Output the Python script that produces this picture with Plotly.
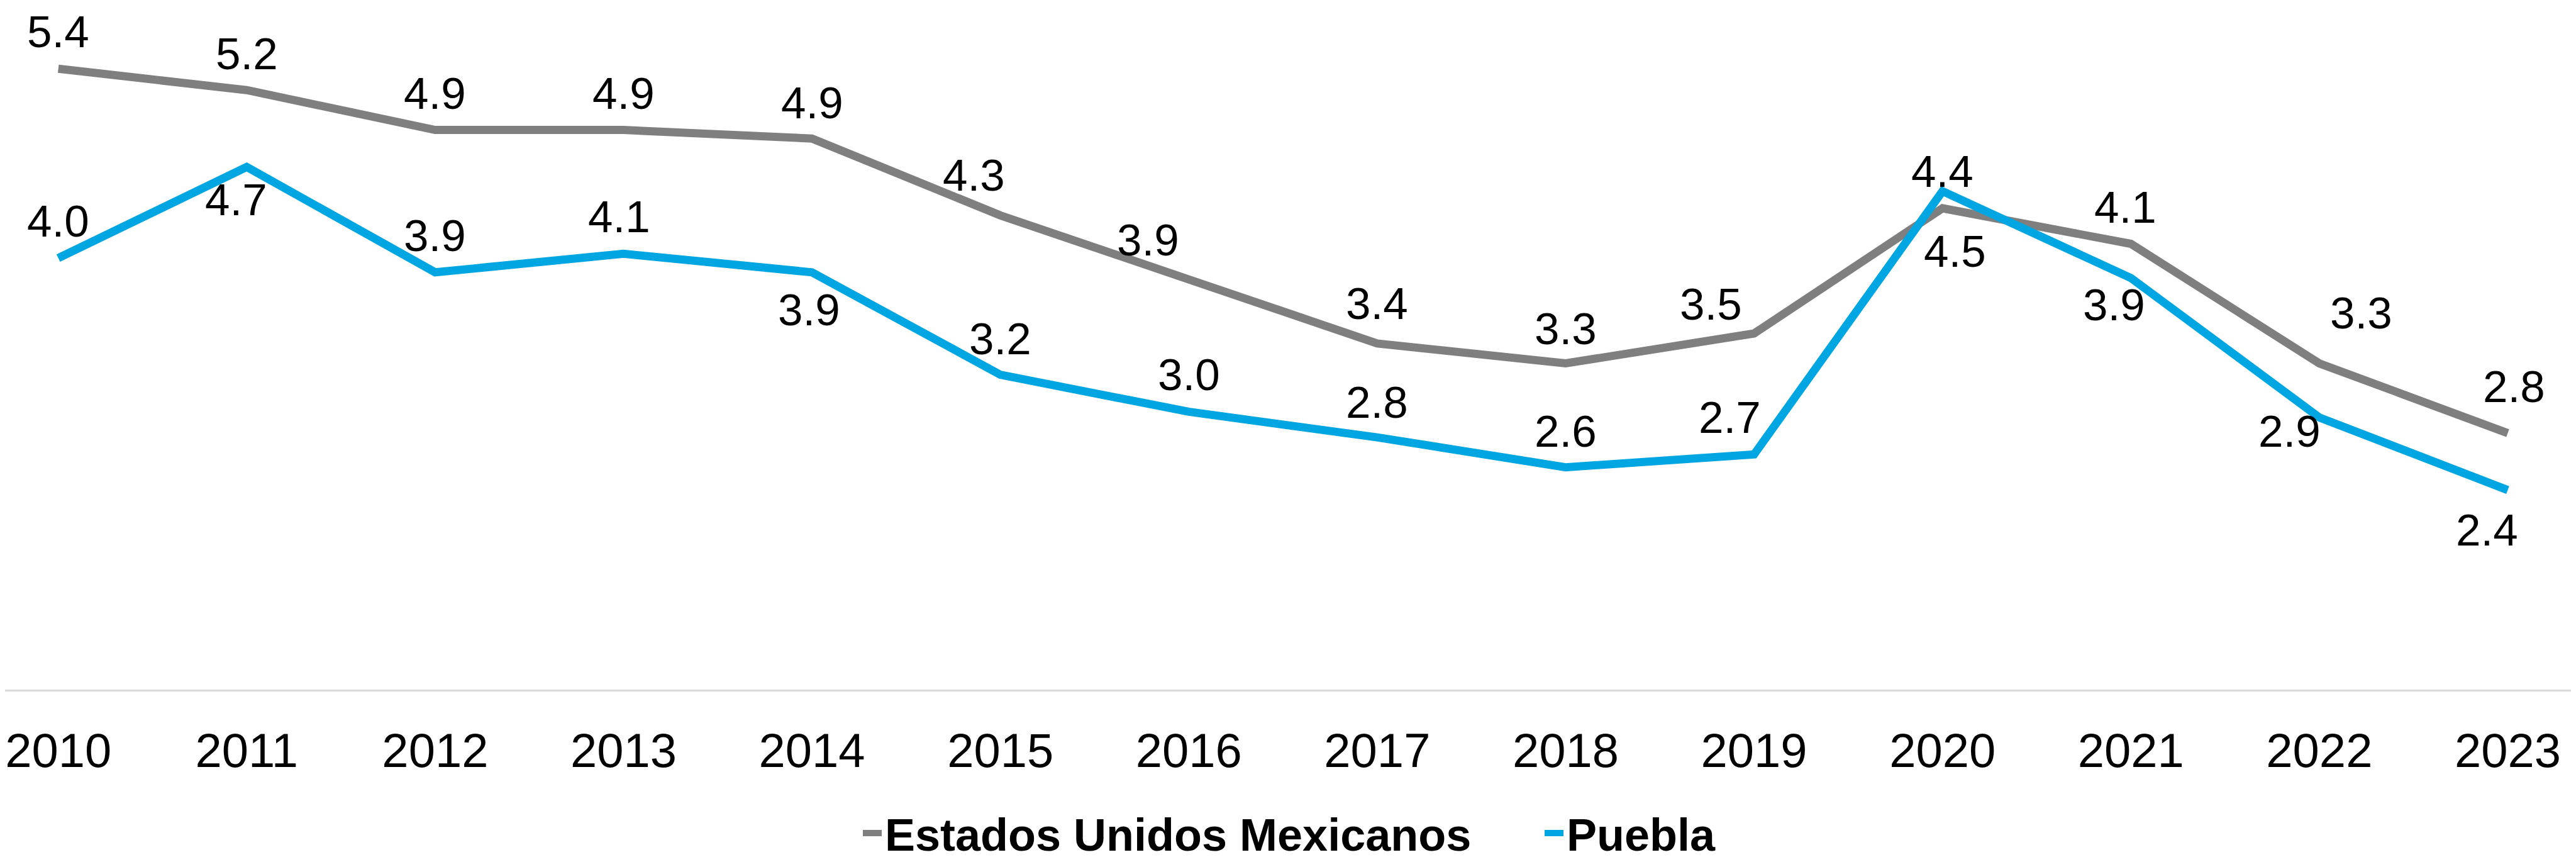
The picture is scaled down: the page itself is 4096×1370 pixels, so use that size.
import plotly.graph_objects as go

# ---- data ----
years = ["2010", "2011", "2012", "2013", "2014", "2015", "2016",
         "2017", "2018", "2019", "2020", "2021", "2022", "2023"]
mexico = [5.37, 5.22, 4.94, 4.94, 4.88, 4.34, 3.89, 3.44, 3.30, 3.51, 4.39, 4.14, 3.30, 2.81]
puebla = [4.04, 4.68, 3.94, 4.07, 3.94, 3.22, 2.96, 2.78, 2.57, 2.66, 4.51, 3.90, 2.92, 2.41]
series_names = ["Estados Unidos Mexicanos", "Puebla"]

# ---- styling ----
S = 0.974  # scale factor from reference
FONT = "Liberation Sans, Arial, sans-serif"
GRAY = "#7F7F7F"
BLUE = "#00A6E1"

# label offsets (reference pixels: dx right, dy down) - manual label placement
mexico_off = [(0, -60), (0, -59), (0, -60), (0, -60), (0, -58), (-43, -66), (-66, -64),
              (0, -65), (0, -57), (-70, -48), (0, -60), (-9, -60), (68, -82), (10, -76)]
puebla_off = [(0, -60), (-17, 54), (0, -60), (-7, -60), (-5, 61), (0, -59), (0, -61),
              (0, -57), (0, -59), (-40, -60), (20, 98), (-27, 44), (-49, 23), (-34, 65)]

idx = list(range(len(years)))

fig = go.Figure()
fig.add_trace(go.Scatter(x=idx, y=mexico, mode="lines", name="<b>" + series_names[0] + "</b>",
                         line=dict(color=GRAY, width=13), hoverinfo="skip"))
fig.add_trace(go.Scatter(x=idx, y=puebla, mode="lines", name="<b>" + series_names[1] + "</b>",
                         line=dict(color=BLUE, width=13), hoverinfo="skip"))

for vals, offs in ((mexico, mexico_off), (puebla, puebla_off)):
    for i, v, (dx, dy) in zip(idx, vals, offs):
        fig.add_annotation(
            x=i, y=v, xref="x", yref="y", text=f"{v:.1f}", showarrow=False,
            xshift=round(dx * S, 1), yshift=round(-dy * S, 1),
            font=dict(family=FONT, size=71, color="#000000"),
        )

W, H = 4096, 1370
BOTTOM = 269
fig.update_layout(
    width=W, height=H,
    margin=dict(l=0, r=0, t=0, b=BOTTOM, pad=0),
    paper_bgcolor="white", plot_bgcolor="white",
    font=dict(family=FONT, color="black"),
    showlegend=True,
    legend=dict(orientation="h", x=1359 / W, xanchor="left",
                y=-0.2098, yanchor="middle",
                font=dict(family=FONT, size=72, color="black"),
                itemwidth=30, entrywidth=1039, entrywidthmode="pixels",
                bgcolor="rgba(0,0,0,0)"),
    xaxis=dict(range=[-0.2827, 13.389], tickmode="array", tickvals=idx, ticktext=years,
               showgrid=False, zeroline=False,
               showline=True, linecolor="#D9D9D9", linewidth=2.5,
               ticks="outside", ticklen=29, tickcolor="rgba(0,0,0,0)",
               tickfont=dict(family=FONT, size=76, color="black")),
    yaxis=dict(range=[1.0077, 5.818], showticklabels=False, showgrid=False,
               zeroline=False, showline=False, ticks=""),
)

fig.write_html("out.html")
